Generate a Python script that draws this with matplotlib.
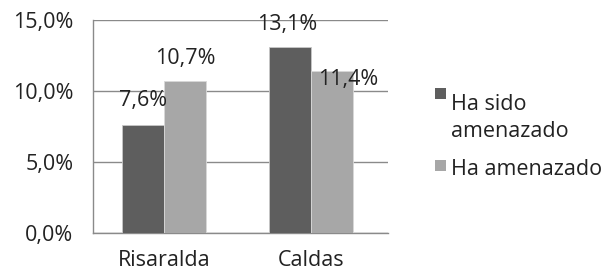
import matplotlib
matplotlib.use("Agg")
import matplotlib.pyplot as plt
from matplotlib.patches import Rectangle
import numpy as np

categories = ["Risaralda", "Caldas"]
series_names = ["Ha sido\namenazado", "Ha amenazado"]
ha_sido = [7.6, 13.1]
ha_amenazado = [10.7, 11.4]
labels_sido = ["7,6%", "13,1%"]
labels_amen = ["10,7%", "11,4%"]
yticks = [0, 5, 10, 15]
ytick_labels = ["0,0%", "5,0%", "10,0%", "15,0%"]

dark = "#5e5e5e"
light = "#a7a7a7"
txt = "#222222"
plt.rcParams['font.family'] = ['Open Sans', 'DejaVu Sans']
FS = 15.5

fig = plt.figure(figsize=(6.07, 2.73), dpi=100)
ax = fig.add_axes([93/607, 1-233/273, 295/607, 213/273])
x = np.arange(len(categories))
w = 0.285
ax.bar(x - w/2, ha_sido, w, color=dark, edgecolor="#c8c8c8", linewidth=0.6, zorder=3)
ax.bar(x + w/2, ha_amenazado, w, color=light, edgecolor="#d8d8d8", linewidth=0.6, zorder=3)
ax.set_xlim(-0.48, 1.52)
ax.set_ylim(0, 15)
ax.set_yticks(yticks)
ax.set_yticklabels(ytick_labels)
ax.set_xticks(x)
ax.set_xticklabels(categories)
ax.tick_params(length=0, labelsize=FS, colors=txt)
ax.tick_params(axis='y', pad=14)
ax.tick_params(axis='x', pad=12)
ax.grid(axis='y', color="#8a8a8a", linewidth=1.0, zorder=0)
for s in ["top", "right"]:
    ax.spines[s].set_visible(False)
for s in ["left", "bottom"]:
    ax.spines[s].set_color("#8a8a8a")
    ax.spines[s].set_linewidth(1.0)

# data labels (Excel-style positions)
off_sido = [(0.0, 1.7), (-0.02, 1.6)]
off_amen = [(0.0, 1.6), (0.11, -0.6)]
for i in range(len(categories)):
    dx, dy = off_sido[i]
    ax.text(x[i] - w/2 + dx, ha_sido[i] + dy, labels_sido[i], ha='center', va='center',
            fontsize=FS, color=txt, zorder=4)
    dx, dy = off_amen[i]
    ax.text(x[i] + w/2 + dx, ha_amenazado[i] + dy, labels_amen[i], ha='center', va='center',
            fontsize=FS, color=txt, zorder=4)

# legend drawn manually
fig.patches.append(Rectangle((435/607, 1-99/273), 11/607, 11/273, transform=fig.transFigure,
                             facecolor=dark, edgecolor='none'))
fig.text(451/607, 1-137/273, series_names[0], fontsize=FS, color=txt, va='baseline',
         linespacing=1.4)
fig.patches.append(Rectangle((435/607, 1-171/273), 11/607, 11/273, transform=fig.transFigure,
                             facecolor=light, edgecolor='none'))
fig.text(451/607, 1-175/273, series_names[1], fontsize=FS, color=txt, va='baseline')

fig.savefig("out.png", dpi=100)
